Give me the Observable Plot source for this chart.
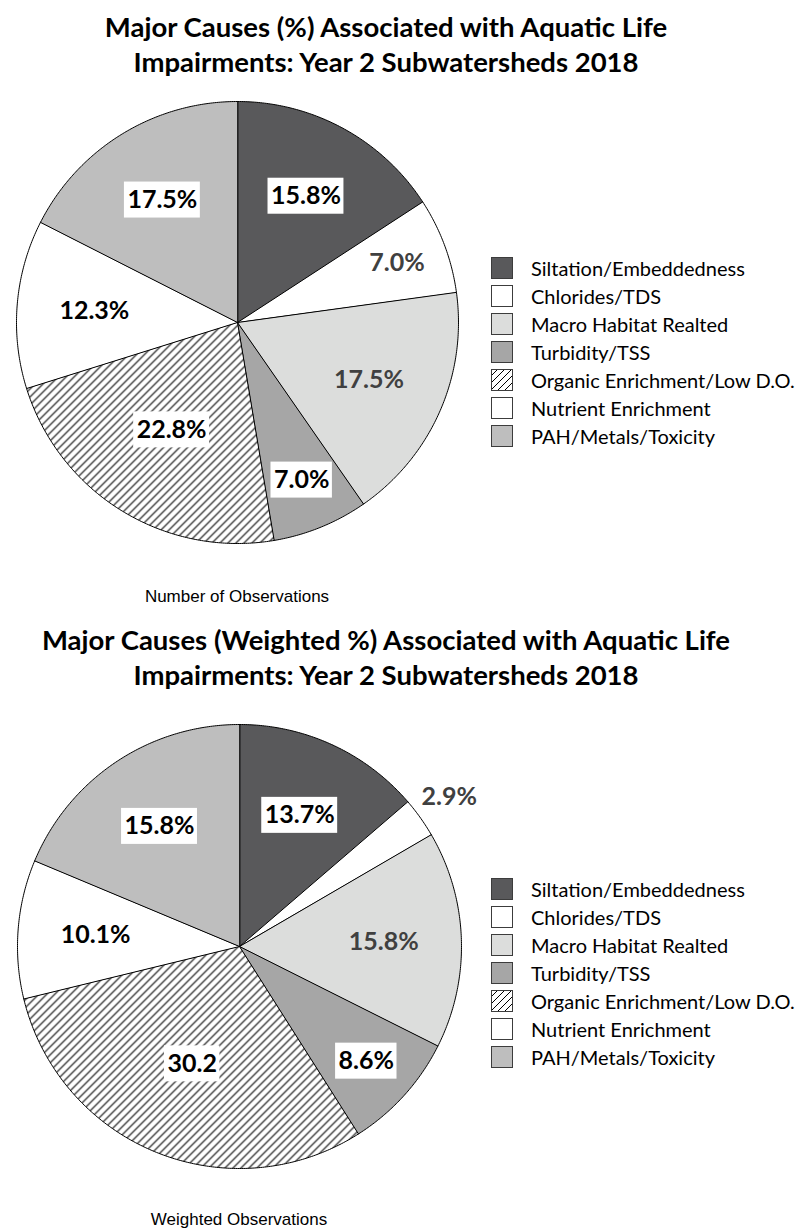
<!DOCTYPE html>
<html>
<head>
<meta charset="utf-8">
<script src="https://cdn.jsdelivr.net/npm/d3@7"></script>
<script src="https://cdn.jsdelivr.net/npm/@observablehq/plot@0.6"></script>
<style>
  html, body { margin: 0; padding: 0; background: #fff; }
  body { width: 802px; height: 1232px; position: relative; overflow: hidden; font-family: Lato, "Open Sans", sans-serif; }
  .title { position: absolute; left: 0; width: 772px; text-align: center; font-weight: 700; font-size: 27.5px; line-height: 35px; color: #000; }
  .caption { position: absolute; width: 300px; text-align: center; font-family: "Liberation Sans", Arial, sans-serif; font-size: 17px; line-height: 20px; color: #000; }
  .plot { position: absolute; left: 0; }
  .legend { position: absolute; left: 491px; }
  .legend .row { display: flex; align-items: center; height: 28px; font-size: 20px; color: #000; white-space: nowrap; }
  .legend svg { margin-right: 18px; flex: none; }
</style>
</head>
<body>
<svg width="0" height="0" style="position:absolute">
  <defs>
    <pattern id="hatch" patternUnits="userSpaceOnUse" width="8" height="8">
      <rect width="8" height="8" fill="#fff"/>
      <path d="M-1,1 L1,-1 M0,8 L8,0 M7,9 L9,7" stroke="#000" stroke-width="1.1"/>
    </pattern>
    <pattern id="hatchSmall" patternUnits="userSpaceOnUse" width="7" height="7">
      <rect width="7" height="7" fill="#fff"/>
      <path d="M-1,1 L1,-1 M0,7 L7,0 M6,8 L8,6" stroke="#000" stroke-width="1"/>
    </pattern>
  </defs>
</svg>
<script>
// ---------- data ----------
const categories = [
  "Siltation/Embeddedness",
  "Chlorides/TDS",
  "Macro Habitat Realted",
  "Turbidity/TSS",
  "Organic Enrichment/Low D.O.",
  "Nutrient Enrichment",
  "PAH/Metals/Toxicity"
];
const countShares = [15.8, 7.0, 17.5, 7.0, 22.8, 12.3, 17.5];
const countLabels = ["15.8%", "7.0%", "17.5%", "7.0%", "22.8%", "12.3%", "17.5%"];
// slice sizes as drawn (the PAH slice is drawn at ~18.7 though labelled 15.8%)
const weightedShares = [13.7, 2.9, 15.8, 8.6, 30.2, 10.1, 18.7];
const weightedLabels = ["13.7%", "2.9%", "15.8%", "8.6%", "30.2", "10.1%", "15.8%"];
const titles = [
  ["Major Causes (%) Associated with Aquatic Life", "Impairments: Year 2 Subwatersheds 2018"],
  ["Major Causes (Weighted %) Associated with Aquatic Life", "Impairments: Year 2 Subwatersheds 2018"]
];
const captions = ["Number of Observations", "Weighted Observations"];

// ---------- styles ----------
const sliceFills = ["#59595b", "#ffffff", "#dcdddc", "#a6a6a6", "url(#hatch)", "#ffffff", "#bebebe"];
const legendFills = ["#59595b", "#ffffff", "#dcdddc", "#a6a6a6", "url(#hatchSmall)", "#ffffff", "#bebebe"];
const labelInk = ["#000", "#404040", "#404040", "#000", "#000", "#000", "#000"];
const labelBoxed = [true, false, false, true, true, true, true];
const labelFont = 25;

const layout = [
  {titleTop: 9, plotTop: 90, cx: 237, cy: 232, r: 221, legendTop: 254, captionY: 587},
  {titleTop: 622, plotTop: 712, cx: 239, cy: 234, r: 222, legendTop: 875, captionY: 1210}
];

const labelRadius = v => v < 5 ? 1.16 : v < 10 ? 0.77 : v > 20 ? 0.57 : 0.65;

const ctx = document.createElement("canvas").getContext("2d");
ctx.font = `bold ${labelFont}px Lato`;

function drawPie(shares, labels, L) {
  const arcs = d3.pie().sort(null).value(d => d)(shares);
  const pts = [];
  const lbls = [];
  const boxes = [];
  arcs.forEach((a, i) => {
    pts.push({k: i, x: 0, y: 0});
    const n = Math.max(2, Math.ceil((a.endAngle - a.startAngle) / (Math.PI / 360)));
    for (let j = 0; j <= n; j++) {
      const t = a.startAngle + (a.endAngle - a.startAngle) * j / n;
      pts.push({k: i, x: Math.sin(t), y: Math.cos(t)});
    }
    const mid = (a.startAngle + a.endAngle) / 2;
    const f = labelRadius(shares[i]);
    const lx = f * Math.sin(mid), ly = f * Math.cos(mid);
    lbls.push({k: i, x: lx, y: ly, text: labels[i]});
    if (labelBoxed[i]) {
      const w = ctx.measureText(labels[i]).width;
      const hw = (w / 2 + 3) / L.r, hh = 18 / L.r;
      boxes.push({x1: lx - hw, x2: lx + hw, y1: ly - hh, y2: ly + hh});
    }
  });
  return Plot.plot({
    width: 802,
    height: 470,
    margin: 0,
    x: {domain: [-1, 1], range: [L.cx - L.r, L.cx + L.r], axis: null},
    y: {domain: [-1, 1], range: [L.cy + L.r, L.cy - L.r], axis: null},
    color: {type: "identity"},
    style: {background: "transparent", overflow: "visible"},
    marks: [
      Plot.line(pts, {x: "x", y: "y", z: "k", fill: d => sliceFills[d.k], stroke: "#000", strokeWidth: 1, curve: "linear-closed"}),
      Plot.rect(boxes, {x1: "x1", x2: "x2", y1: "y1", y2: "y2", fill: "#fff"}),
      Plot.text(lbls, {x: "x", y: "y", text: "text", fill: d => labelInk[d.k], fontSize: labelFont, fontWeight: "bold", fontFamily: "Lato"})
    ]
  });
}

function addChart(idx, shares, labels) {
  const L = layout[idx];
  const t = document.createElement("div");
  t.className = "title";
  t.style.top = L.titleTop + "px";
  t.innerHTML = titles[idx].join("<br>");
  document.body.appendChild(t);

  const wrap = document.createElement("div");
  wrap.className = "plot";
  wrap.style.top = L.plotTop + "px";
  wrap.appendChild(drawPie(shares, labels, L));
  document.body.appendChild(wrap);

  const lg = document.createElement("div");
  lg.className = "legend";
  lg.style.top = L.legendTop + "px";
  categories.forEach((c, i) => {
    const row = document.createElement("div");
    row.className = "row";
    row.innerHTML = `<svg width="22" height="22"><rect x="0.5" y="0.5" width="21" height="21" fill="${legendFills[i]}" stroke="#3c3c3c" stroke-width="1"/></svg><span>${c}</span>`;
    lg.appendChild(row);
  });
  document.body.appendChild(lg);

  const cap = document.createElement("div");
  cap.className = "caption";
  cap.style.left = (L.cx - 150) + "px";
  cap.style.top = L.captionY + "px";
  cap.textContent = captions[idx];
  document.body.appendChild(cap);
}

addChart(0, countShares, countLabels);
addChart(1, weightedShares, weightedLabels);
</script>
</body>
</html>
